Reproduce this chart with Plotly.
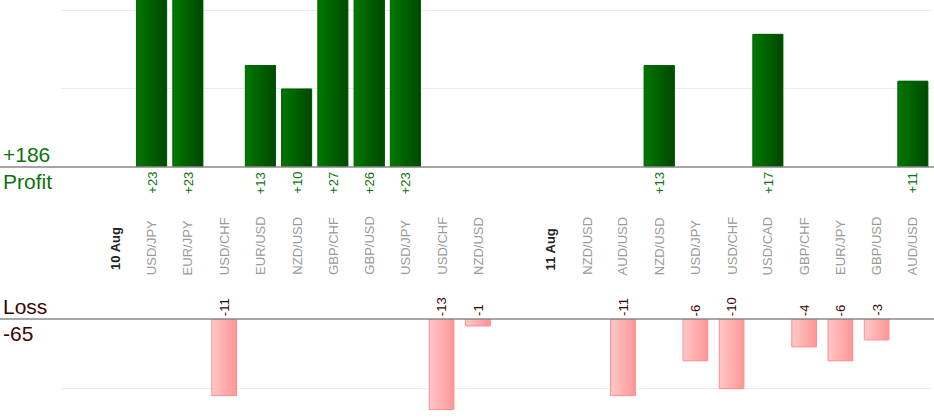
import plotly.graph_objects as go

# one slot per column, blank slots separate the days
labels = ["", "10 Aug", "USD/JPY", "EUR/JPY", "USD/CHF", "EUR/USD", "NZD/USD", "GBP/CHF",
          "GBP/USD", "USD/JPY", "USD/CHF", "NZD/USD",
          "", "11 Aug", "NZD/USD", "AUD/USD", "NZD/USD", "USD/JPY", "USD/CHF", "USD/CAD",
          "GBP/CHF", "EUR/JPY", "GBP/USD", "AUD/USD"]
is_date = [False, True] + [False] * 10 + [False, True] + [False] * 10
results = [None, None, 23, 23, -11, 13, 10, 27, 26, 23, -13, -1,
           None, None, None, -11, 13, -6, -10, 17, -4, -6, -3, 11]

xs = list(range(len(labels)))
profit = [r if r is not None and r > 0 else None for r in results]
loss = [r if r is not None and r < 0 else None for r in results]
total_profit = sum(p for p in profit if p)
total_loss = sum(l for l in loss if l)

W, H = 934, 420
L, R = 61, 3
PW = W - L - R
FONT = "Liberation Sans, Arial, sans-serif"
GREEN_TXT = "#0b730b"
LOSS_TXT = "#3a0505"


def mix(c1, c2, t):
    a = [int(c1[i:i + 2], 16) for i in (1, 3, 5)]
    b = [int(c2[i:i + 2], 16) for i in (1, 3, 5)]
    return "rgb(%d,%d,%d)" % tuple(round(a[k] + (b[k] - a[k]) * t) for k in range(3))


def gradient_bars(y, yaxis, width, left, right, edge, steps=12):
    # fake a left-to-right gradient: each strip runs to the right edge,
    # the next one is drawn over it, so there are no seams
    xa = "x" if yaxis == "y" else "x2"
    step = width / steps
    traces = []
    for i in range(steps):
        traces.append(go.Bar(
            x=xs, y=y, xaxis=xa, yaxis=yaxis,
            width=width - i * step, offset=-width / 2 + i * step,
            marker=dict(color=mix(left, right, i / (steps - 1)), line=dict(width=0)),
            hoverinfo="skip", showlegend=False))
    traces.append(go.Bar(
        x=xs, y=y, xaxis=xa, yaxis=yaxis,
        width=width, offset=-width / 2,
        marker=dict(color="rgba(0,0,0,0)", line=dict(color=edge, width=1)),
        showlegend=False))
    return traces


fig = go.Figure(gradient_bars(profit, "y", 0.83, "#007600", "#004a00", "#006000")
                + gradient_bars(loss, "y2", 0.68, "#ffc6c6", "#ff9898", "#ff8e8e"))

y_top = 1 - 167 / 420
y_bot = 1 - 319 / 420
fig.update_layout(
    width=W, height=H,
    margin=dict(l=L, r=R, t=0, b=0),
    plot_bgcolor="white", paper_bgcolor="white",
    barmode="overlay",
    font=dict(family=FONT),
    xaxis=dict(domain=[0, 1], range=[-0.5, len(labels) - 0.5], anchor="y",
               visible=False),
    xaxis2=dict(domain=[0, 1], range=[-0.5, len(labels) - 0.5], anchor="y2",
                matches="x", visible=False),
    yaxis=dict(domain=[y_top, 1], range=[0, 21.4], dtick=10, showticklabels=False,
               gridcolor="#ebebeb", gridwidth=1, zeroline=False, ticks=""),
    yaxis2=dict(domain=[0, y_bot], range=[-14.5, 0], dtick=10, showticklabels=False,
                gridcolor="#ebebeb", gridwidth=1, zeroline=False, ticks=""),
)

# baselines across the whole width
for yb in (y_top, y_bot):
    fig.add_shape(type="line", xref="paper", yref="paper", x0=-L / PW, x1=1 + R / PW,
                  y0=yb, y1=yb, line=dict(color="#888888", width=1.5))

ann = []
x_left = -L / PW + 2 / PW
ann.append(dict(text="+%d" % total_profit, x=x_left, y=1 - 167 / 420, xanchor="left",
                yanchor="bottom", font=dict(size=21, color=GREEN_TXT)))
ann.append(dict(text="Profit", x=x_left, y=1 - 169 / 420, xanchor="left",
                yanchor="top", font=dict(size=21, color=GREEN_TXT)))
ann.append(dict(text="Loss", x=x_left, y=1 - 319 / 420, xanchor="left",
                yanchor="bottom", font=dict(size=21, color=LOSS_TXT)))
ann.append(dict(text="%d" % total_loss, x=x_left, y=1 - 321 / 420, xanchor="left",
                yanchor="top", font=dict(size=21, color=LOSS_TXT)))
for a in ann:
    a.update(xref="paper", yref="paper", showarrow=False, borderpad=0)

for x, lab, d, r in zip(xs, labels, is_date, results):
    if lab:
        ann.append(dict(
            text="<b>%s</b>" % lab if d else lab, x=x, xref="x", yref="paper",
            y=1 - (271 if d else 276) / 420, yanchor="bottom", textangle=-90,
            showarrow=False, borderpad=0,
            font=dict(size=13, color="#222222" if d else "#9a9a9a")))
    if r is not None and r > 0:
        ann.append(dict(text="+%d" % r, x=x, xref="x", yref="paper", y=1 - 171 / 420,
                        yanchor="top", textangle=-90, showarrow=False, borderpad=0,
                        font=dict(size=13, color=GREEN_TXT)))
    elif r is not None and r < 0:
        ann.append(dict(text="%d" % r, x=x, xref="x", yref="paper", y=1 - 317 / 420,
                        yanchor="bottom", textangle=-90, showarrow=False, borderpad=0,
                        font=dict(size=13, color=LOSS_TXT)))

fig.update_layout(annotations=ann)
fig.write_html("out.html", config={"displayModeBar": False},
               post_script="document.body.style.margin='0';")
